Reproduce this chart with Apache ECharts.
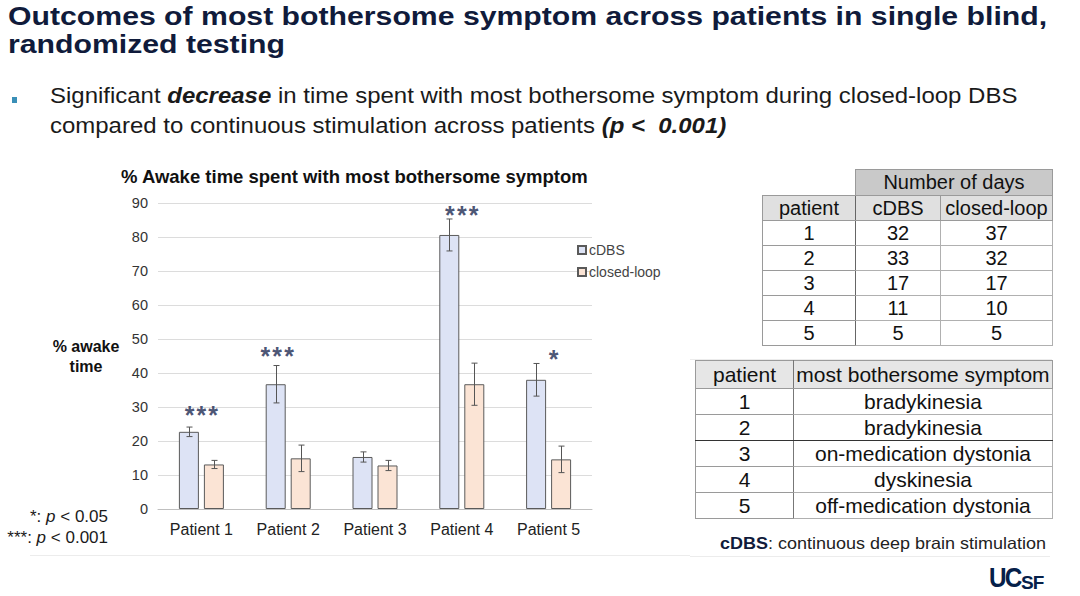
<!DOCTYPE html>
<html><head><meta charset="utf-8">
<script src="https://cdn.jsdelivr.net/npm/echarts@6/dist/echarts.min.js"></script>
<style>
html,body{margin:0;padding:0;background:#fff;}
body{width:1080px;height:596px;position:relative;overflow:hidden;font-family:"Liberation Sans",Arial,sans-serif;color:#1a1a1a;}
#chart{position:absolute;left:0;top:0;width:1080px;height:596px;}
.abs{position:absolute;white-space:nowrap;}
table{border-collapse:collapse;table-layout:fixed;position:absolute;}
td{padding:0;text-align:center;color:#111;}
</style>
</head><body>
<div id="chart"></div>

<div class="abs" style="left:8px;top:2px;font-size:26.5px;font-weight:bold;color:#101b3b;line-height:28px;transform:scaleX(1.14);transform-origin:0 0;">Outcomes of most bothersome symptom across patients in single blind,<br>randomized testing</div>

<div class="abs" style="left:12px;top:97px;width:5px;height:6px;background:#3a8fb7;"></div>
<div class="abs" style="left:50px;top:81px;font-size:21.5px;line-height:30px;color:#1a1a1a;transform:scaleX(1.115);transform-origin:0 0;">Significant <b><i>decrease</i></b> in time spent with most bothersome symptom during closed-loop DBS<br>compared to continuous stimulation across patients <b><i>(p &lt;&nbsp; 0.001)</i></b></div>

<table id="t1" style="left:762px;top:169px;width:290px;font-size:20px;">
<colgroup><col style="width:93px"><col style="width:85px"><col style="width:112px"></colgroup>
<tr style="height:26px"><td style="border:none;"></td><td colspan="2" style="background:#c9c9c9;border:1px solid #9a9a9a;">Number of days</td></tr>
<tr style="height:25px;background:#e0e0e0;"><td style="border:1px solid #9a9a9a;border-right:1px solid #666;">patient</td><td style="border:1px solid #9a9a9a;">cDBS</td><td style="border:1px solid #9a9a9a;">closed-loop</td></tr>
</table>

<table id="t2" style="left:695px;top:360px;width:357px;font-size:21px;">
<colgroup><col style="width:98px"><col style="width:259px"></colgroup>
<tr style="height:28px;background:#e6e6e6;"><td style="border:1px solid #9a9a9a;border-right:1px solid #777;">patient</td><td style="border:1px solid #9a9a9a;">most bothersome symptom</td></tr>
</table>

<div class="abs" style="left:0;top:506px;width:108px;text-align:right;font-size:17px;line-height:21px;color:#1a1a1a;">*: <i>p</i> &lt; 0.05<br>***: <i>p</i> &lt; 0.001</div>

<div class="abs" style="left:720px;top:534px;font-size:16.5px;color:#222;transform:scaleX(1.09);transform-origin:0 0;"><b style="color:#101b3b;">cDBS</b>: continuous deep brain stimulation</div>
<div class="abs" style="left:30px;top:555px;width:660px;height:1px;background:#ececec;"></div>
<div class="abs" style="left:690px;top:556px;width:360px;height:1px;background:#ececec;"></div>
<div class="abs" style="left:690px;top:359px;width:362px;height:1px;background:#ececec;"></div>

<div class="abs" style="left:989px;top:563px;font-size:27px;line-height:30px;font-weight:bold;color:#052049;letter-spacing:-2px;transform:scaleX(0.9);transform-origin:0 0;">UC</div>
<div class="abs" style="left:1021px;top:572px;font-size:19px;line-height:21px;font-weight:bold;color:#052049;letter-spacing:-1px;">SF</div>

<script>
// ---- data ----
const categories = ['Patient 1', 'Patient 2', 'Patient 3', 'Patient 4', 'Patient 5'];
const cdbs      = [22.7, 36.7, 15.3, 80.6, 38.0];
const cdbsErr   = [1.4, 5.5, 1.5, 4.7, 4.8];
const closed    = [13.1, 14.9, 12.8, 36.7, 14.6];
const closedErr = [1.2, 3.9, 1.5, 6.2, 3.9];
const sigMarks  = ['***', '***', '', '***', '*'];
const sigLevel  = [29.1, 46.6, 0, 87.9, 45.6];
const yTicks    = [0, 10, 20, 30, 40, 50, 60, 70, 80, 90];

const daysPatients = ['1', '2', '3', '4', '5'];
const daysCdbs     = ['32', '33', '17', '11', '5'];
const daysClosed   = ['37', '32', '17', '10', '5'];
const symptoms     = ['bradykinesia', 'bradykinesia', 'on-medication dystonia', 'dyskinesia', 'off-medication dystonia'];

// ---- style constants ----
const sigDx = [0, -11, 0, 0, 5];
const BAR_W = 20, BAR_GAP = 5;

// ---- tables ----
const t1 = document.getElementById('t1');
daysPatients.forEach((p, i) => {
  const tr = document.createElement('tr');
  tr.style.height = '25px';
  tr.innerHTML = '<td style="border:1px solid #9a9a9a;border-right:1px solid #666;">' + p + '</td>' +
                 '<td style="border:1px solid #b0b0b0;">' + daysCdbs[i] + '</td>' +
                 '<td style="border:1px solid #b0b0b0;">' + daysClosed[i] + '</td>';
  t1.appendChild(tr);
});
const t2 = document.getElementById('t2');
daysPatients.forEach((p, i) => {
  const tr = document.createElement('tr');
  tr.style.height = '26px';
  const bb = i === 1 ? 'border-bottom:1px solid #333;' : '';
  tr.innerHTML = '<td style="border:1px solid #9a9a9a;border-right:1px solid #777;' + bb + '">' + p + '</td>' +
                 '<td style="border:1px solid #b0b0b0;' + bb + '">' + symptoms[i] + '</td>';
  t2.appendChild(tr);
});

// ---- chart ----
const chart = echarts.init(document.getElementById('chart'), null, {renderer: 'svg'});
function errSeries(name, vals, errs, offset) {
  return {
    type: 'custom', name: name, silent: true, z: 5,
    data: vals.map((v, i) => [i, v - errs[i], v + errs[i]]),
    encode: {x: 0, y: [1, 2]},
    renderItem: function (params, api) {
      const lo = api.coord([api.value(0), api.value(1)]);
      const hi = api.coord([api.value(0), api.value(2)]);
      const x = Math.round(lo[0] + offset) + 0.5, hw = 3;
      const st = {stroke: '#555', lineWidth: 1};
      return {type: 'group', children: [
        {type: 'line', shape: {x1: x, y1: hi[1], x2: x, y2: lo[1]}, style: st},
        {type: 'line', shape: {x1: x - hw, y1: hi[1], x2: x + hw, y2: hi[1]}, style: st},
        {type: 'line', shape: {x1: x - hw, y1: lo[1], x2: x + hw, y2: lo[1]}, style: st}
      ]};
    }
  };
}
const sigData = [];
sigMarks.forEach((s, i) => {
  if (s) sigData.push({value: [i, sigLevel[i]], label: {formatter: s.split('').join('\u200A'), offset: [sigDx[i], 5]}});
});
const off = (BAR_W + BAR_GAP) / 2;
chart.setOption({
  animation: false,
  backgroundColor: 'transparent',
  title: {
    text: '% Awake time spent with most bothersome symptom',
    left: 121, top: 167, padding: 0,
    textStyle: {fontFamily: 'Liberation Sans', fontSize: 18.5, fontWeight: 'bold', color: '#111'}
  },
  legend: {
    data: ['cDBS', 'closed-loop'], orient: 'vertical', left: 577, top: 243,
    icon: 'rect', itemWidth: 8, itemHeight: 8, itemGap: 8, padding: 0,
    textStyle: {fontFamily: 'Liberation Sans', fontSize: 14, color: '#444', padding: [0, 0, 0, -2]}
  },
  grid: {left: 158, top: 203, width: 434, height: 306, containLabel: false},
  xAxis: {
    type: 'category', data: categories,
    axisLine: {show: true, lineStyle: {color: '#bfbfbf', width: 1}},
    axisTick: {show: false},
    axisLabel: {fontFamily: 'Liberation Sans', fontSize: 16, color: '#222', margin: 12},
    splitLine: {show: false}
  },
  yAxis: {
    type: 'value', min: yTicks[0], max: yTicks[yTicks.length - 1], interval: yTicks[1] - yTicks[0],
    name: '% awake\ntime', nameLocation: 'middle', nameRotate: 0, nameGap: 72,
    nameTextStyle: {fontFamily: 'Liberation Sans', fontSize: 16, fontWeight: 'bold', color: '#111', align: 'center', lineHeight: 20, padding: [0, 0, 18, 0]},
    axisLine: {show: false}, axisTick: {show: false},
    axisLabel: {fontFamily: 'Liberation Sans', fontSize: 14.5, color: '#333', margin: 10},
    splitLine: {show: true, lineStyle: {color: '#dcdcdc', width: 1}}
  },
  series: [
    {type: 'bar', name: 'cDBS', data: cdbs, barWidth: BAR_W, barGap: (BAR_GAP / BAR_W * 100) + '%',
     itemStyle: {color: '#dde3f5', borderColor: '#5a5a5a', borderWidth: 1}},
    {type: 'bar', name: 'closed-loop', data: closed, barWidth: BAR_W,
     itemStyle: {color: '#fbe4d5', borderColor: '#5a5a5a', borderWidth: 1}},
    errSeries('cDBS err', cdbs, cdbsErr, -off),
    errSeries('closed err', closed, closedErr, off),
    {type: 'scatter', name: 'sig', data: sigData, symbolSize: 1, itemStyle: {color: 'rgba(0,0,0,0)'}, silent: true, z: 6,
     label: {show: true, position: 'inside', fontFamily: 'Liberation Sans', fontSize: 25, fontWeight: 'bold', color: '#1b2850'}}
  ]
});
</script>
</body></html>
